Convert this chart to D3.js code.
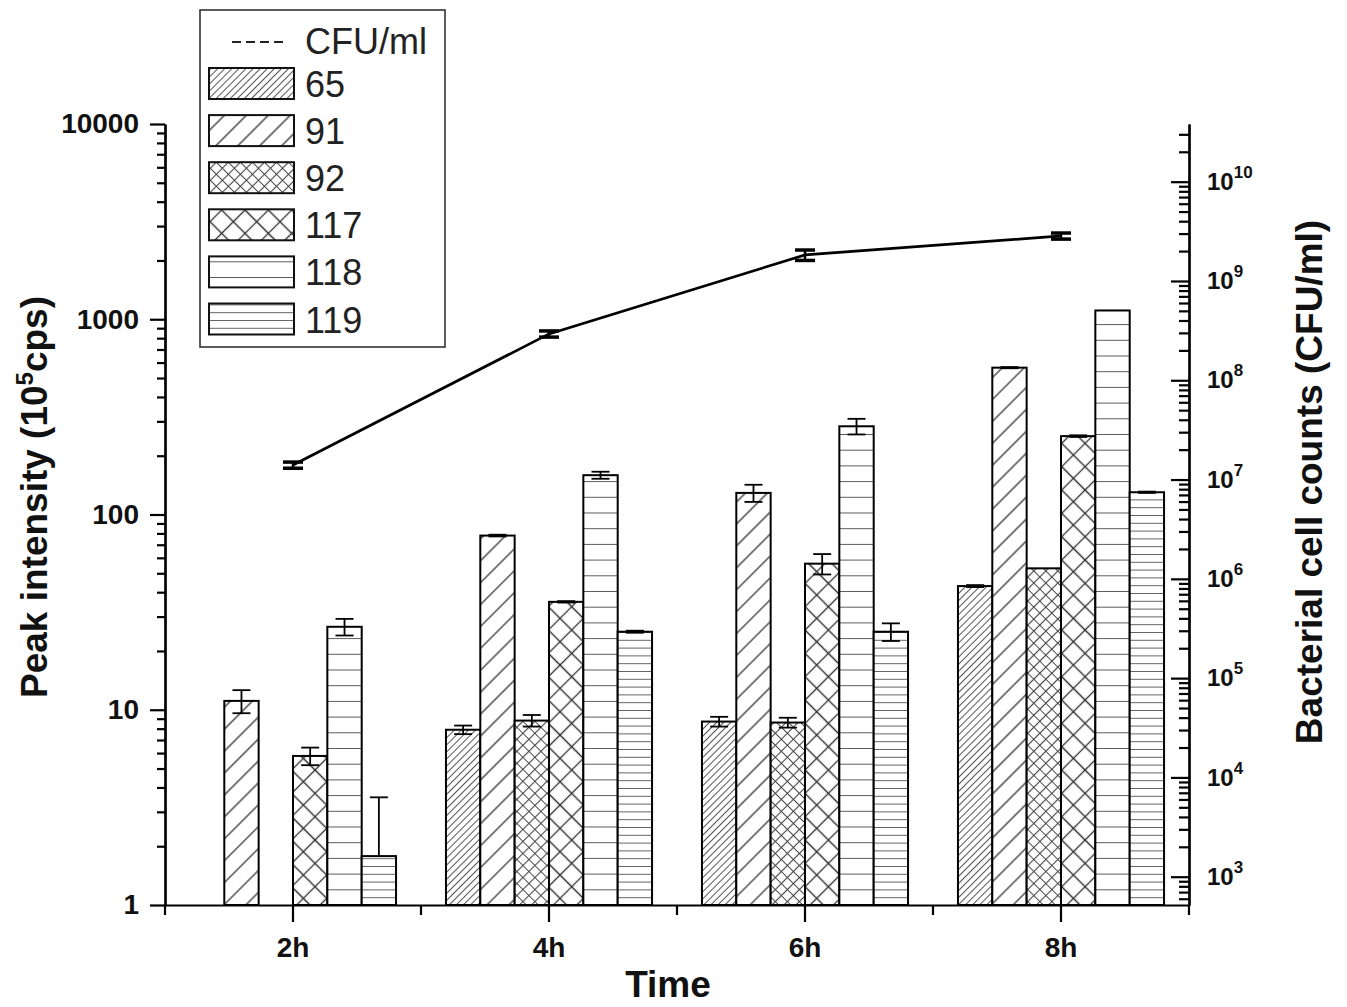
<!DOCTYPE html>
<html lang="en">
<head>
   <meta charset="UTF-8">
   <title>Peak intensity and bacterial cell counts</title>
   <style>
      body { margin: 0; background: #fff; }
      svg { display: block; font-family: Arial, 'Liberation Sans', sans-serif; }
      .axis path, .axis line { stroke: #000; stroke-width: 2.2; }
      .axis text { font-size: 28px; font-weight: bold; fill: #111; font-family: Arial, 'Liberation Sans', sans-serif; }
      .axis.right text { font-size: 24px; }
      .title { font-size: 37px; font-weight: bold; fill: #111; }
      .legend text { font-size: 36px; fill: #222; }
   </style>
   <script src="https://cdn.jsdelivr.net/npm/d3@7"></script>
</head>
<body>
   <div class="chart"></div>
   <script>
      // data
      const times = ['2h', '4h', '6h', '8h']
      const series = ['65', '91', '92', '117', '118', '119']

      const peak65  = [null, 7.9, 8.7, 43]
      const peak91  = [11.1, 78, 129, 565]
      const peak92  = [null, 8.8, 8.6, 53]
      const peak117 = [5.8, 35.7, 56, 252]
      const peak118 = [26.6, 159, 283, 1109]
      const peak119 = [1.78, 25.1, 25.1, 130]

      const err65  = [null, 0.4, 0.5, 0.5]
      const err91  = [1.5, 0.8, 13, 4]
      const err92  = [null, 0.6, 0.5, 0]
      const err117 = [0.6, 0.3, 6.7, 2.5]
      const err118 = [2.6, 6.6, 26, 0]
      const err119 = [1.78, 0.3, 2.6, 1]

      const cfu    = [1.40e7, 2.93e8, 1.83e9, 2.84e9]
      const cfuErr = [1.0e6, 2.1e7, 2.2e8, 2.0e8]

      const leftTicks = [1, 10, 100, 1000, 10000]
      const rightTicks = [1e3, 1e4, 1e5, 1e6, 1e7, 1e8, 1e9, 1e10]

      const peakValues = [peak65, peak91, peak92, peak117, peak118, peak119]
      const peakErrors = [err65, err91, err92, err117, err118, err119]

      function visualize() {
         const WIDTH = 1347
         const HEIGHT = 1007
         const X0 = 165, X1 = 1189, Y0 = 905, Y1 = 124

         const svg = d3.select('.chart').append('svg')
            .attr('width', WIDTH)
            .attr('height', HEIGHT)

         svg.append('rect').attr('width', WIDTH).attr('height', HEIGHT).attr('fill', '#fff')

         // scales
         const xScale = d3.scaleBand().domain(times).range([X0, X1])
         const bw = xScale.bandwidth()
         const subScale = d3.scaleBand().domain(series).range([0, bw * 0.805])
         const offset = (bw - bw * 0.805) / 2

         const yLeft = d3.scaleLog().domain([1, 10000]).range([Y0, Y1])
         const yRight = d3.scaleLog()
            .domain([Math.pow(10, 2.715), Math.pow(10, 10.581)])
            .range([Y0, Y1])

         // hatch patterns
         const hatches = [
            { id: 'p65', kind: 'diag', size: 5, color: '#555', w: 1 },
            { id: 'p91', kind: 'diag', size: 15.5, color: '#333', w: 1.3 },
            { id: 'p92', kind: 'cross', size: 8.5, color: '#444', w: 1.1 },
            { id: 'p117', kind: 'cross', size: 16.5, color: '#333', w: 1.3 },
            { id: 'p118', kind: 'horiz', size: 15.7, color: '#333', w: 1.6 },
            { id: 'p119', kind: 'horiz', size: 7.8, color: '#333', w: 1.5 },
         ]
         const defs = svg.append('defs')
         hatches.forEach(h => {
            const s = h.size
            const p = defs.append('pattern')
               .attr('id', h.id)
               .attr('patternUnits', 'userSpaceOnUse')
               .attr('width', s)
               .attr('height', s)
            if (h.kind === 'horiz') p.attr('y', Y0)
            else p.attr('patternTransform', 'rotate(45)')
            p.append('rect').attr('width', s).attr('height', s).attr('fill', '#fff')
            let d
            if (h.kind === 'horiz') d = `M0,0H${s}`
            else if (h.kind === 'diag') d = `M${s / 2},0V${s}`
            else d = `M${s / 2},0V${s}M0,${s / 2}H${s}`
            p.append('path')
               .attr('d', d)
               .attr('stroke', h.color)
               .attr('stroke-width', h.w)
               .attr('fill', 'none')
         })

         // bars
         const bars = series.flatMap((s, k) => times.map((t, i) => ({
            series: s, time: t, value: peakValues[k][i], err: peakErrors[k][i]
         }))).filter(d => d.value != null)

         const barX = d => xScale(d.time) + offset + subScale(d.series)

         svg.append('g').selectAll('rect')
            .data(bars)
            .enter()
            .append('rect')
               .attr('x', barX)
               .attr('y', d => yLeft(d.value))
               .attr('width', subScale.bandwidth())
               .attr('height', d => yLeft(1) - yLeft(d.value))
               .attr('fill', d => `url(#p${d.series})`)
               .attr('stroke', '#000')
               .attr('stroke-width', 2)

         // bar error bars
         const errG = svg.append('g').attr('stroke', '#000').attr('stroke-width', 1.8)
         bars.filter(d => d.err > 0).forEach(d => {
            const cx = barX(d) + subScale.bandwidth() / 2
            const top = yLeft(d.value + d.err)
            const low = d.value - d.err
            const bottom = low > 1 ? yLeft(low) : yLeft(d.value)
            errG.append('line').attr('x1', cx).attr('x2', cx).attr('y1', top).attr('y2', bottom)
            errG.append('line').attr('x1', cx - 9).attr('x2', cx + 9).attr('y1', top).attr('y2', top)
            if (low > 1) {
               errG.append('line').attr('x1', cx - 9).attr('x2', cx + 9).attr('y1', bottom).attr('y2', bottom)
            }
         })

         // axes
         const isPow10 = v => Math.abs(Math.log10(v) - Math.round(Math.log10(v))) < 1e-6

         svg.append('g')
            .attr('class', 'axis')
            .attr('transform', `translate(${X0}, 0)`)
            .call(d3.axisLeft(yLeft).tickValues(yLeft.ticks().filter(v => !isPow10(v)))
               .tickSize(8).tickSizeOuter(0).tickFormat(''))

         svg.append('g')
            .attr('class', 'axis')
            .attr('transform', `translate(${X0}, 0)`)
            .call(d3.axisLeft(yLeft).tickValues(leftTicks)
               .tickSize(15).tickSizeOuter(0).tickPadding(11).tickFormat(d3.format('')))

         svg.append('g')
            .attr('class', 'axis right')
            .attr('transform', `translate(${X1}, 0)`)
            .call(d3.axisRight(yRight).tickValues(yRight.ticks().filter(v => !isPow10(v)))
               .tickSize(-10).tickSizeOuter(0).tickFormat(''))

         const rightAxis = svg.append('g')
            .attr('class', 'axis right')
            .attr('transform', `translate(${X1}, 0)`)
            .call(d3.axisRight(yRight).tickValues(rightTicks)
               .tickSize(-18).tickSizeOuter(0).tickPadding(18))

         rightAxis.selectAll('.tick text').each(function(v) {
            const t = d3.select(this).text('')
            t.append('tspan').text('10')
            t.append('tspan')
               .attr('dy', -12)
               .style('font-size', '17px')
               .text(Math.round(Math.log10(v)))
         })

         svg.append('g')
            .attr('class', 'axis')
            .attr('transform', `translate(0, ${Y0})`)
            .call(d3.axisBottom(xScale).tickSize(17).tickSizeOuter(0).tickPadding(15))

         svg.append('g')
            .attr('stroke', '#000')
            .attr('stroke-width', 2.2)
            .selectAll('line')
            .data(d3.range(times.length + 1))
            .enter()
            .append('line')
               .attr('x1', i => X0 + i * bw)
               .attr('x2', i => X0 + i * bw)
               .attr('y1', Y0)
               .attr('y2', Y0 + 10)

         // axis titles
         svg.append('text')
            .attr('class', 'title')
            .attr('text-anchor', 'middle')
            .attr('transform', 'translate(47, 497) rotate(-90)')
            .call(t => {
               t.append('tspan').text('Peak intensity (10')
               t.append('tspan').attr('dy', -14).style('font-size', '24px').text('5')
               t.append('tspan').attr('dy', 14).text('cps)')
            })

         svg.append('text')
            .attr('class', 'title')
            .attr('text-anchor', 'middle')
            .attr('transform', 'translate(1322, 482) rotate(-90)')
            .text('Bacterial cell counts (CFU/ml)')

         svg.append('text')
            .attr('class', 'title')
            .attr('text-anchor', 'middle')
            .attr('x', (X0 + X1) / 2 - 9)
            .attr('y', 997)
            .text('Time')

         // CFU line
         const lineData = times.map((t, i) => ({ time: t, value: cfu[i], err: cfuErr[i] }))
         const cx = d => xScale(d.time) + bw / 2

         svg.append('path')
            .datum(lineData)
            .attr('fill', 'none')
            .attr('stroke', '#000')
            .attr('stroke-width', 2.7)
            .attr('d', d3.line().x(cx).y(d => yRight(d.value)))

         const lineErr = svg.append('g').attr('stroke', '#000')
         lineData.forEach(d => {
            const top = yRight(d.value + d.err)
            const bottom = yRight(d.value - d.err)
            lineErr.append('line').attr('stroke-width', 2.5)
               .attr('x1', cx(d)).attr('x2', cx(d)).attr('y1', top).attr('y2', bottom)
            ;[top, bottom].forEach(y => {
               lineErr.append('line').attr('stroke-width', 3.5)
                  .attr('x1', cx(d) - 10).attr('x2', cx(d) + 10).attr('y1', y).attr('y2', y)
            })
         })

         // legend
         const legend = svg.append('g').attr('class', 'legend')
         legend.append('rect')
            .attr('x', 200).attr('y', 10)
            .attr('width', 245).attr('height', 337)
            .attr('fill', '#fff')
            .attr('stroke', '#333')
            .attr('stroke-width', 1.6)

         legend.append('line')
            .attr('x1', 232).attr('x2', 286)
            .attr('y1', 42).attr('y2', 42)
            .attr('stroke', '#222')
            .attr('stroke-width', 2.2)
            .attr('stroke-dasharray', '9,5')
         legend.append('text').attr('x', 305).attr('y', 54).text('CFU/ml')

         const rowY = k => 68 + k * 47.1
         const items = legend.selectAll('.item')
            .data(series)
            .enter()
            .append('g')
               .attr('class', 'item')

         items.append('rect')
            .attr('x', 209)
            .attr('y', (_, k) => rowY(k))
            .attr('width', 85)
            .attr('height', 31)
            .attr('fill', d => `url(#p${d})`)
            .attr('stroke', '#111')
            .attr('stroke-width', 2)

         items.append('text')
            .attr('x', 305)
            .attr('y', (_, k) => rowY(k) + 29)
            .text(d => d)
      }

      visualize()
   </script>
</body>
</html>
